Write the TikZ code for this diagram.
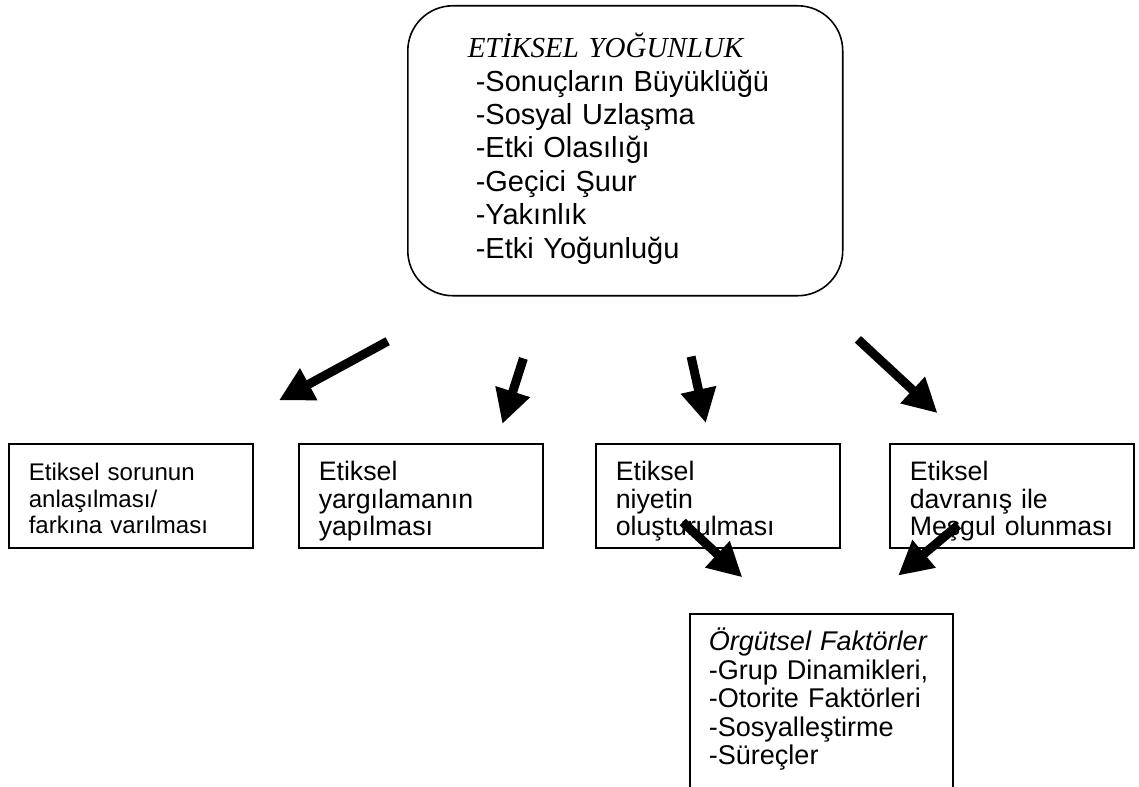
\documentclass[tikz,border=0pt]{standalone}
\usepackage{fontspec}
\setmainfont{Liberation Sans}
\newfontfamily\titleserif{Liberation Serif}
\usetikzlibrary{arrows.meta}

\tikzset{
  topbox/.style={draw,line width=0.9pt,rounded corners=0.9cm,anchor=north west,align=left,
    inner xsep=1.36cm,inner ysep=0pt,text width=5.98cm,text height=1.04cm,text depth=4.76cm,
    font=\fontsize{16.5pt}{19pt}\selectfont},
  stagebox/.style={draw,line width=0.9pt,anchor=north west,align=left,
    inner xsep=0.4cm,inner ysep=0pt,text width=4.08cm,text height=0.74cm,text depth=1.34cm,
    font=\fontsize{15.2pt}{15.6pt}\selectfont},
  factorbox/.style={draw,line width=0.9pt,anchor=north west,align=left,
    inner xsep=0.38cm,inner ysep=0pt,text width=4.5cm,text height=0.74cm,text depth=3cm,
    font=\fontsize{15.4pt}{16.2pt}\selectfont},
  bigarrow/.style={line width=0.18cm,-{Triangle[length=0.68cm,width=0.68cm]}}
}

\begin{document}
\begin{tikzpicture}[x=0.02cm,y=-0.02cm]
\clip (0,0) rectangle (1139,787);
\fill[white] (0,0) rectangle (1139,787);

% intensity box
\node[topbox] (yogunluk) at (407,5) {\hspace*{-0.16cm}{\titleserif\itshape ETİKSEL YOĞUNLUK}\\-Sonuçların Büyüklüğü\\-Sosyal Uzlaşma\\-Etki Olasılığı\\-Geçici Şuur\\-Yakınlık\\-Etki Yoğunluğu};

% stages
\node[stagebox,font=\fontsize{13.7pt}{15pt}\selectfont] (farkina) at (8,443) {Etiksel sorunun\\anlaşılması/\\farkına varılması};
\node[stagebox] (yargi) at (298,443) {Etiksel\\yargılamanın\\yapılması};
\node[stagebox] (niyet) at (595,443) {Etiksel\\niyetin\\oluşturulması};
\node[stagebox] (davranis) at (889,443) {Etiksel\\davranış ile\\Meşgul olunması};

% organisational factors
\node[factorbox] (orgut) at (689,613) {\textit{Örgütsel Faktörler}\\-Grup Dinamikleri,\\-Otorite Faktörleri\\-Sosyalleştirme\\-Süreçler};

\draw[bigarrow,shorten <=1.87cm,shorten >=1.78cm] ([xshift=-3.11cm]yogunluk.south)--([xshift=1.40cm]farkina.north);
\draw[bigarrow,shorten <=1.30cm,shorten >=0.40cm] ([xshift=-1.64cm]yogunluk.south)--([xshift=1.51cm]yargi.north);
\draw[bigarrow,shorten <=1.23cm,shorten >=0.41cm] ([xshift=1.05cm]yogunluk.south)--([xshift=-0.15cm]niyet.north);
\draw[bigarrow,shorten <=1.26cm,shorten >=0.88cm] ([xshift=3.73cm]yogunluk.south)--([xshift=-0.84cm]davranis.north);
\draw[bigarrow,shorten <=-0.78cm,shorten >=1.05cm] ([xshift=-0.13cm]niyet.south)--([xshift=-0.81cm]orgut.north);
\draw[bigarrow,shorten <=-0.73cm,shorten >=1.16cm] ([xshift=-1.63cm]davranis.south)--([xshift=0.65cm]orgut.north);
\end{tikzpicture}
\end{document}
